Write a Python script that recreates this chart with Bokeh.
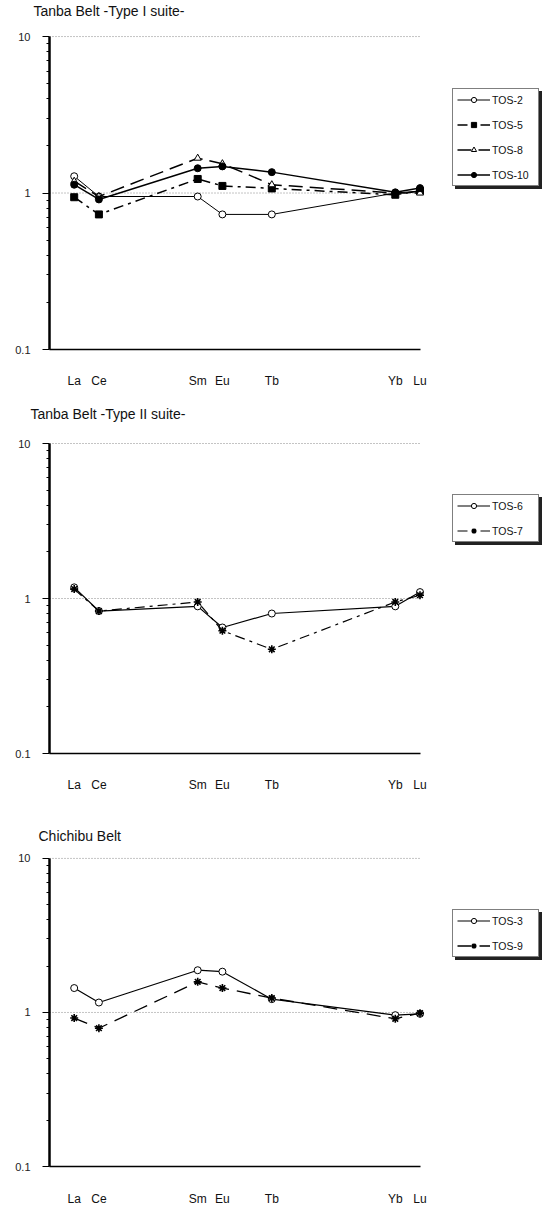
from bokeh.plotting import figure
from bokeh.models import Range1d, FixedTicker, Legend, LegendItem
from bokeh.layouts import column
from bokeh.embed import file_html
from bokeh.resources import INLINE

# ---- data ----
elements = ["La", "Ce", "Sm", "Eu", "Tb", "Yb", "Lu"]
positions = [0, 1, 5, 6, 8, 13, 14]   # offset of atomic number from La

tos2 = [1.28, 0.95, 0.95, 0.73, 0.73, 1.00, 1.03]
tos5 = [0.94, 0.73, 1.23, 1.11, 1.07, 0.975, 1.03]
tos8 = [1.19, 0.95, 1.67, 1.54, 1.13, 1.00, 1.00]
tos10 = [1.13, 0.91, 1.44, 1.48, 1.36, 1.01, 1.075]

tos6 = [1.18, 0.83, 0.89, 0.65, 0.80, 0.89, 1.10]
tos7 = [1.15, 0.83, 0.95, 0.62, 0.47, 0.95, 1.05]

tos3 = [1.44, 1.16, 1.88, 1.84, 1.22, 0.96, 0.98]
tos9 = [0.92, 0.79, 1.58, 1.44, 1.24, 0.91, 0.99]

major_y = [0.1, 1, 10]
minor_y = [0.2, 0.3, 0.4, 0.5, 0.6, 0.7, 0.8, 0.9, 2, 3, 4, 5, 6, 7, 8, 9]
grid_y = [1, 10]

FONT = "Liberation Sans"
W = 545
LEFT = 49
UNIT = 24.7
TITLE_H = 19


def make_panel(title, series, styles, height, border_top, border_bottom,
               tenth_px, title_offset, legend_y, label_standoff):
    x0 = min(positions) - 1
    x_end = x0 + (W - LEFT) / UNIT
    frame_top = max(border_top, TITLE_H)
    bottom_px = height - border_bottom
    decade = (bottom_px - tenth_px) / 2.0
    y_end = 10 ** (1 + (tenth_px - frame_top) / decade)
    p = figure(width=W, height=height, y_axis_type="log",
               x_range=Range1d(x0, x_end), y_range=Range1d(0.1, y_end),
               output_backend="svg", toolbar_location=None,
               min_border_left=LEFT, min_border_right=0,
               min_border_top=border_top, min_border_bottom=border_bottom)
    p.outline_line_color = None
    p.background_fill_color = "white"
    p.border_fill_color = "white"
    p.xgrid.visible = False
    p.ygrid.visible = False

    p.title.text = title
    p.title.text_font = FONT
    p.title.text_font_size = "14px"
    p.title.text_font_style = "normal"
    p.title.text_color = "#111"
    p.title.align = "left"
    p.title.offset = title_offset
    p.title.standoff = 0

    # dotted reference lines
    x1 = max(positions)
    p.segment(x0=[x0] * len(grid_y), x1=[x1] * len(grid_y), y0=grid_y, y1=grid_y,
              line_color="#888", line_dash="1 2", line_width=1, level="underlay")

    # y axis (drawn only between 0.1 and 10)
    ya = p.yaxis[0]
    ya.bounds = (min(major_y), max(major_y))
    ya.ticker = FixedTicker(ticks=major_y, minor_ticks=minor_y)
    ya.major_label_overrides = {0.1: "0.1", 1: "1", 10: "10"}
    ya.axis_line_width = 2.5
    ya.axis_line_color = "black"
    ya.major_tick_out = 7
    ya.major_tick_in = 0
    ya.minor_tick_out = 3
    ya.minor_tick_in = 0
    ya.major_tick_line_width = 1
    ya.minor_tick_line_width = 1
    ya.major_label_text_font = FONT
    ya.major_label_text_font_size = "11px"
    ya.major_label_text_color = "#222"
    ya.major_label_standoff = 12

    # x axis
    xa = p.xaxis[0]
    xa.ticker = FixedTicker(ticks=positions, minor_ticks=[])
    xa.major_label_overrides = {pos: el for pos, el in zip(positions, elements)}
    xa.bounds = (x0, x1)
    xa.axis_line_width = 1.5
    xa.major_tick_out = 0
    xa.major_tick_in = 0
    xa.minor_tick_out = 0
    xa.minor_tick_in = 0
    xa.major_label_text_font = FONT
    xa.major_label_text_font_size = "12px"
    xa.major_label_text_color = "#111"
    xa.major_label_standoff = label_standoff

    items = []
    for (name, vals), st in zip(series, styles):
        lr = p.line(positions, vals, line_color="black", line_width=st["lw"],
                    line_dash=st["dash"])
        sr = p.scatter(positions, vals, marker=st["marker"], size=st["size"],
                       fill_color=st["fill"], line_color="black",
                       line_width=1.6 if st["marker"] == "asterisk" else 1)
        items.append((name, [lr, sr]))

    common = dict(padding=4, spacing=12, glyph_height=13, label_height=13,
                  glyph_width=33, label_standoff=2, label_width=42, margin=0,
                  label_text_font=FONT, label_text_font_size="10.5px",
                  border_line_width=1)
    lx = 452 - LEFT
    shadow = Legend(items=[LegendItem(label=" ", renderers=r) for n, r in items],
                    location=(lx + 3, legend_y - 3),
                    background_fill_color="#222", background_fill_alpha=1,
                    border_line_color="#222", label_text_alpha=0, **common)
    main = Legend(items=[LegendItem(label=n, renderers=r) for n, r in items],
                  location=(lx, legend_y),
                  background_fill_color="white", background_fill_alpha=1,
                  border_line_color="black", label_text_color="#111", **common)
    p.add_layout(shadow, "center")
    p.add_layout(main, "center")
    return p


open_circle = dict(marker="circle", fill="white", dash="solid", lw=1.2, size=7)

p1 = make_panel("Tanba Belt -Type I suite-",
                [("TOS-2", tos2), ("TOS-5", tos5), ("TOS-8", tos8), ("TOS-10", tos10)],
                [dict(open_circle, lw=1.0),
                 dict(marker="square", fill="black", dash="10 5 3 5", lw=1.5, size=7),
                 dict(marker="triangle", fill="white", dash="14 7", lw=1.5, size=7),
                 dict(marker="circle", fill="black", dash="solid", lw=1.5, size=7)],
                height=400, border_top=0, border_bottom=51, tenth_px=37,
                title_offset=-16, legend_y=163, label_standoff=24)
p2 = make_panel("Tanba Belt -Type II suite-",
                [("TOS-6", tos6), ("TOS-7", tos7)],
                [dict(open_circle),
                 dict(marker="asterisk", fill="black", dash="10 5 3 5", lw=1.2, size=8)],
                height=415, border_top=21, border_bottom=62, tenth_px=43,
                title_offset=-19, legend_y=211, label_standoff=24)
p3 = make_panel("Chichibu Belt",
                [("TOS-3", tos3), ("TOS-9", tos9)],
                [dict(open_circle),
                 dict(marker="asterisk", fill="black", dash="14 8", lw=1.3, size=8)],
                height=393, border_top=28, border_bottom=40, tenth_px=43,
                title_offset=-11, legend_y=209, label_standoff=25)

layout = column(p1, p2, p3, spacing=0)
open("out.html", "w").write(file_html(layout, INLINE))
